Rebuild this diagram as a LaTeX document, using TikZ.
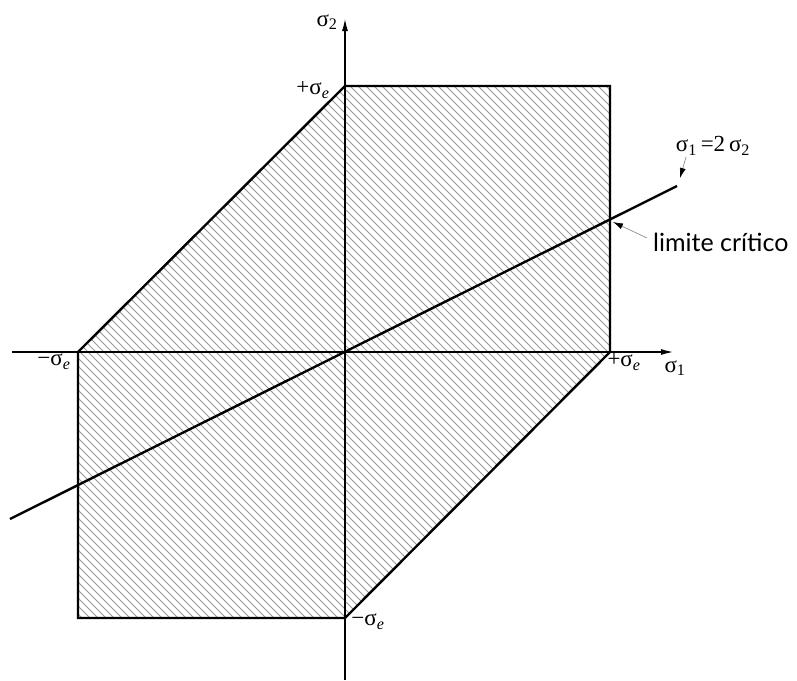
\documentclass[tikz,border=0pt]{standalone}
\usepackage{fontspec}
\setmainfont{Liberation Serif}
\newfontfamily\latofont{Lato}
\usetikzlibrary{arrows.meta}
\newcommand\sgm[1]{σ\textsubscript{#1}}
\begin{document}
\begin{tikzpicture}[x=1pt,y=-1pt,
  lbl/.style={inner sep=0pt,font=\fontsize{23}{26}\selectfont},
  axis/.style={line width=1.1pt,-{Latex[length=12pt,width=6pt]}},
  edge/.style={line width=2.4pt,line join=miter},
  hatch/.style={gray!80,line width=0.8pt},
  callout/.style={gray,line width=0.6pt,-{Latex[length=10pt,width=6pt,black]}}]
\useasboundingbox (0,0) rectangle (797,680);
% corners
\coordinate (A) at (78,352);
\coordinate (B) at (345,86);
\coordinate (C) at (610,86);
\coordinate (D) at (610,352);
\coordinate (E) at (345,618);
\coordinate (F) at (78,618);
\coordinate (O) at (345,352);
% hatching
\begin{scope}
  \clip (A) -- (B) -- (C) -- (D) -- (E) -- (F) -- cycle;
  \foreach \c in {-704,-696,...,600}
    \draw[hatch] (0,\c) -- (800,\c+800);
\end{scope}
% axes
\coordinate (xs) at (12,352);
\coordinate (xe) at (673,352);
\coordinate (ys) at (345,680);
\coordinate (ye) at (345,19);
\draw[axis] (xs) -- (xe);
\draw[axis] (ys) -- (ye);
% region
\draw[edge] (A) -- (B) -- (C) -- (D) -- (E) -- (F) -- cycle;
% critical line
\coordinate (L1) at (10,519);
\coordinate (L2) at (677,186);
\draw[line width=2.4pt] (L1) -- (L2);
% labels
\node[lbl] (s2) at (327,22) {\sgm{2}};
\node[lbl] (pt) at (313,90) {+σ\textsubscript{\itshape e}};
\node[lbl] (pr) at (624,362) {+σ\textsubscript{\itshape e}};
\node[lbl] (s1) at (675,368) {\sgm{1}};
\node[lbl] (ml) at (54,362) {−σ\textsubscript{\itshape e}};
\node[lbl] (mb) at (368,622) {−σ\textsubscript{\itshape e}};
\node[lbl] (eq) at (713,146) {\sgm{1}\,=2\,\sgm{2}};
\node[inner sep=0pt,font=\latofont\fontsize{25}{28}\selectfont,anchor=west] (lc) at (653,242) {limite crítico};
% callouts
\coordinate (eqa) at (686,157);
\coordinate (eqb) at (680,178);
\draw[callout] (eqa) -- (eqb);
\coordinate (lca) at (647,238);
\coordinate (lcb) at (613,222);
\draw[callout] (lca) -- (lcb);
\end{tikzpicture}
\end{document}
